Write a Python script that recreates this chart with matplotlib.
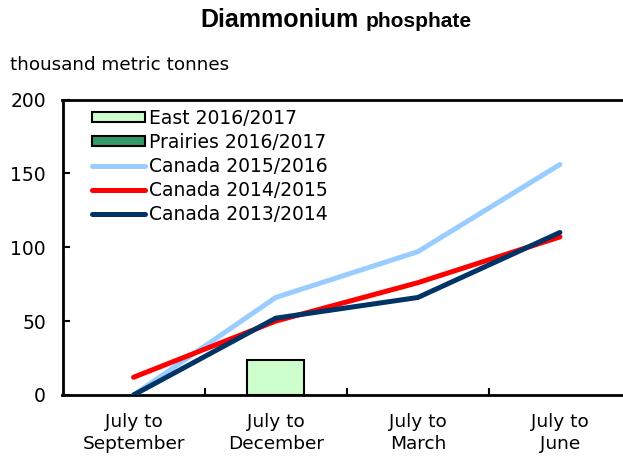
import numpy as np
import matplotlib
matplotlib.use("Agg")
import matplotlib.pyplot as plt
from matplotlib.patches import Patch
from matplotlib.lines import Line2D

categories = ["July to\nSeptember", "July to\nDecember", "July to\nMarch", "July to\nJune"]
east_2016 = [np.nan, 24, np.nan, np.nan]
prairies_2016 = [np.nan, np.nan, np.nan, np.nan]
canada_2015 = [0, 66, 97, 156]
canada_2014 = [12, 50, 76, 107]
canada_2013 = [0, 52, 66, 110]
y_ticks = [0, 50, 100, 150, 200]

W, H = 623, 458
fig = plt.figure(figsize=(W / 100, H / 100), dpi=100)
left, right, top, bottom = 62.5, 631, 99.5, 395
ax = fig.add_axes([left / W, (H - bottom) / H, (right - left) / W, (bottom - top) / H])

x = np.arange(len(categories))
ax.bar(x, east_2016, width=0.4, color="#CCFFCC", edgecolor="black", linewidth=1.5, zorder=2)
ax.bar(x, prairies_2016, width=0.4, bottom=east_2016, color="#339966", edgecolor="black", linewidth=1.5, zorder=2)

lw = 3.6
ax.plot(x, canada_2015, color="#99CCFF", lw=lw, solid_capstyle="round", zorder=3)
ax.plot(x, canada_2014, color="#FF0000", lw=lw, solid_capstyle="round", zorder=4)
ax.plot(x, canada_2013, color="#003366", lw=lw, solid_capstyle="round", zorder=5)

ax.set_xlim(-0.5, len(categories) - 0.5)
ax.set_ylim(0, 200)
ax.set_yticks(y_ticks)
ax.set_yticklabels([str(v) for v in y_ticks], fontsize=13.5, family="DejaVu Sans")
ax.set_xticks(x)
ax.set_xticklabels(categories, fontsize=13.3, family="DejaVu Sans", linespacing=1.25)
ax.set_xticks(x[:-1] + 0.5, minor=True)
ax.tick_params(axis="x", which="major", length=0, pad=13)
ax.tick_params(axis="x", which="minor", direction="in", length=5, width=1.5)
ax.tick_params(axis="y", direction="in", length=5, width=1.5, pad=12)

for s in ["left", "bottom", "top"]:
    ax.spines[s].set_linewidth(2)
ax.spines["right"].set_visible(False)

handles = [
    Patch(facecolor="#CCFFCC", edgecolor="black", linewidth=1.5),
    Patch(facecolor="#339966", edgecolor="black", linewidth=1.5),
    Line2D([], [], color="#99CCFF", lw=lw, solid_capstyle="round"),
    Line2D([], [], color="#FF0000", lw=lw, solid_capstyle="round"),
    Line2D([], [], color="#003366", lw=lw, solid_capstyle="round"),
]
labels = ["East 2016/2017", "Prairies 2016/2017", "Canada 2015/2016",
          "Canada 2014/2015", "Canada 2013/2014"]
leg = ax.legend(handles, labels, loc="upper left",
                bbox_to_anchor=((92 - left) / (right - left), (bottom - 108.5) / (bottom - top)),
                frameon=False, handlelength=2.8, handleheight=0.45,
                handletextpad=0.25, labelspacing=0.27, borderpad=0, borderaxespad=0,
                prop={"family": "DejaVu Sans", "size": 13.5})

fig.text(359 / W, 1 - 27 / H, "Diammonium", ha="right", va="baseline",
         fontsize=18, fontweight="bold", family="Liberation Sans")
fig.text(366 / W, 1 - 27 / H, "phosphate", ha="left", va="baseline",
         fontsize=15, fontweight="bold", family="Liberation Sans")
fig.text(10 / W, 1 - 70 / H, "thousand metric tonnes", ha="left", va="baseline",
         fontsize=13.2, family="DejaVu Sans")

fig.savefig("out.png", dpi=100)
